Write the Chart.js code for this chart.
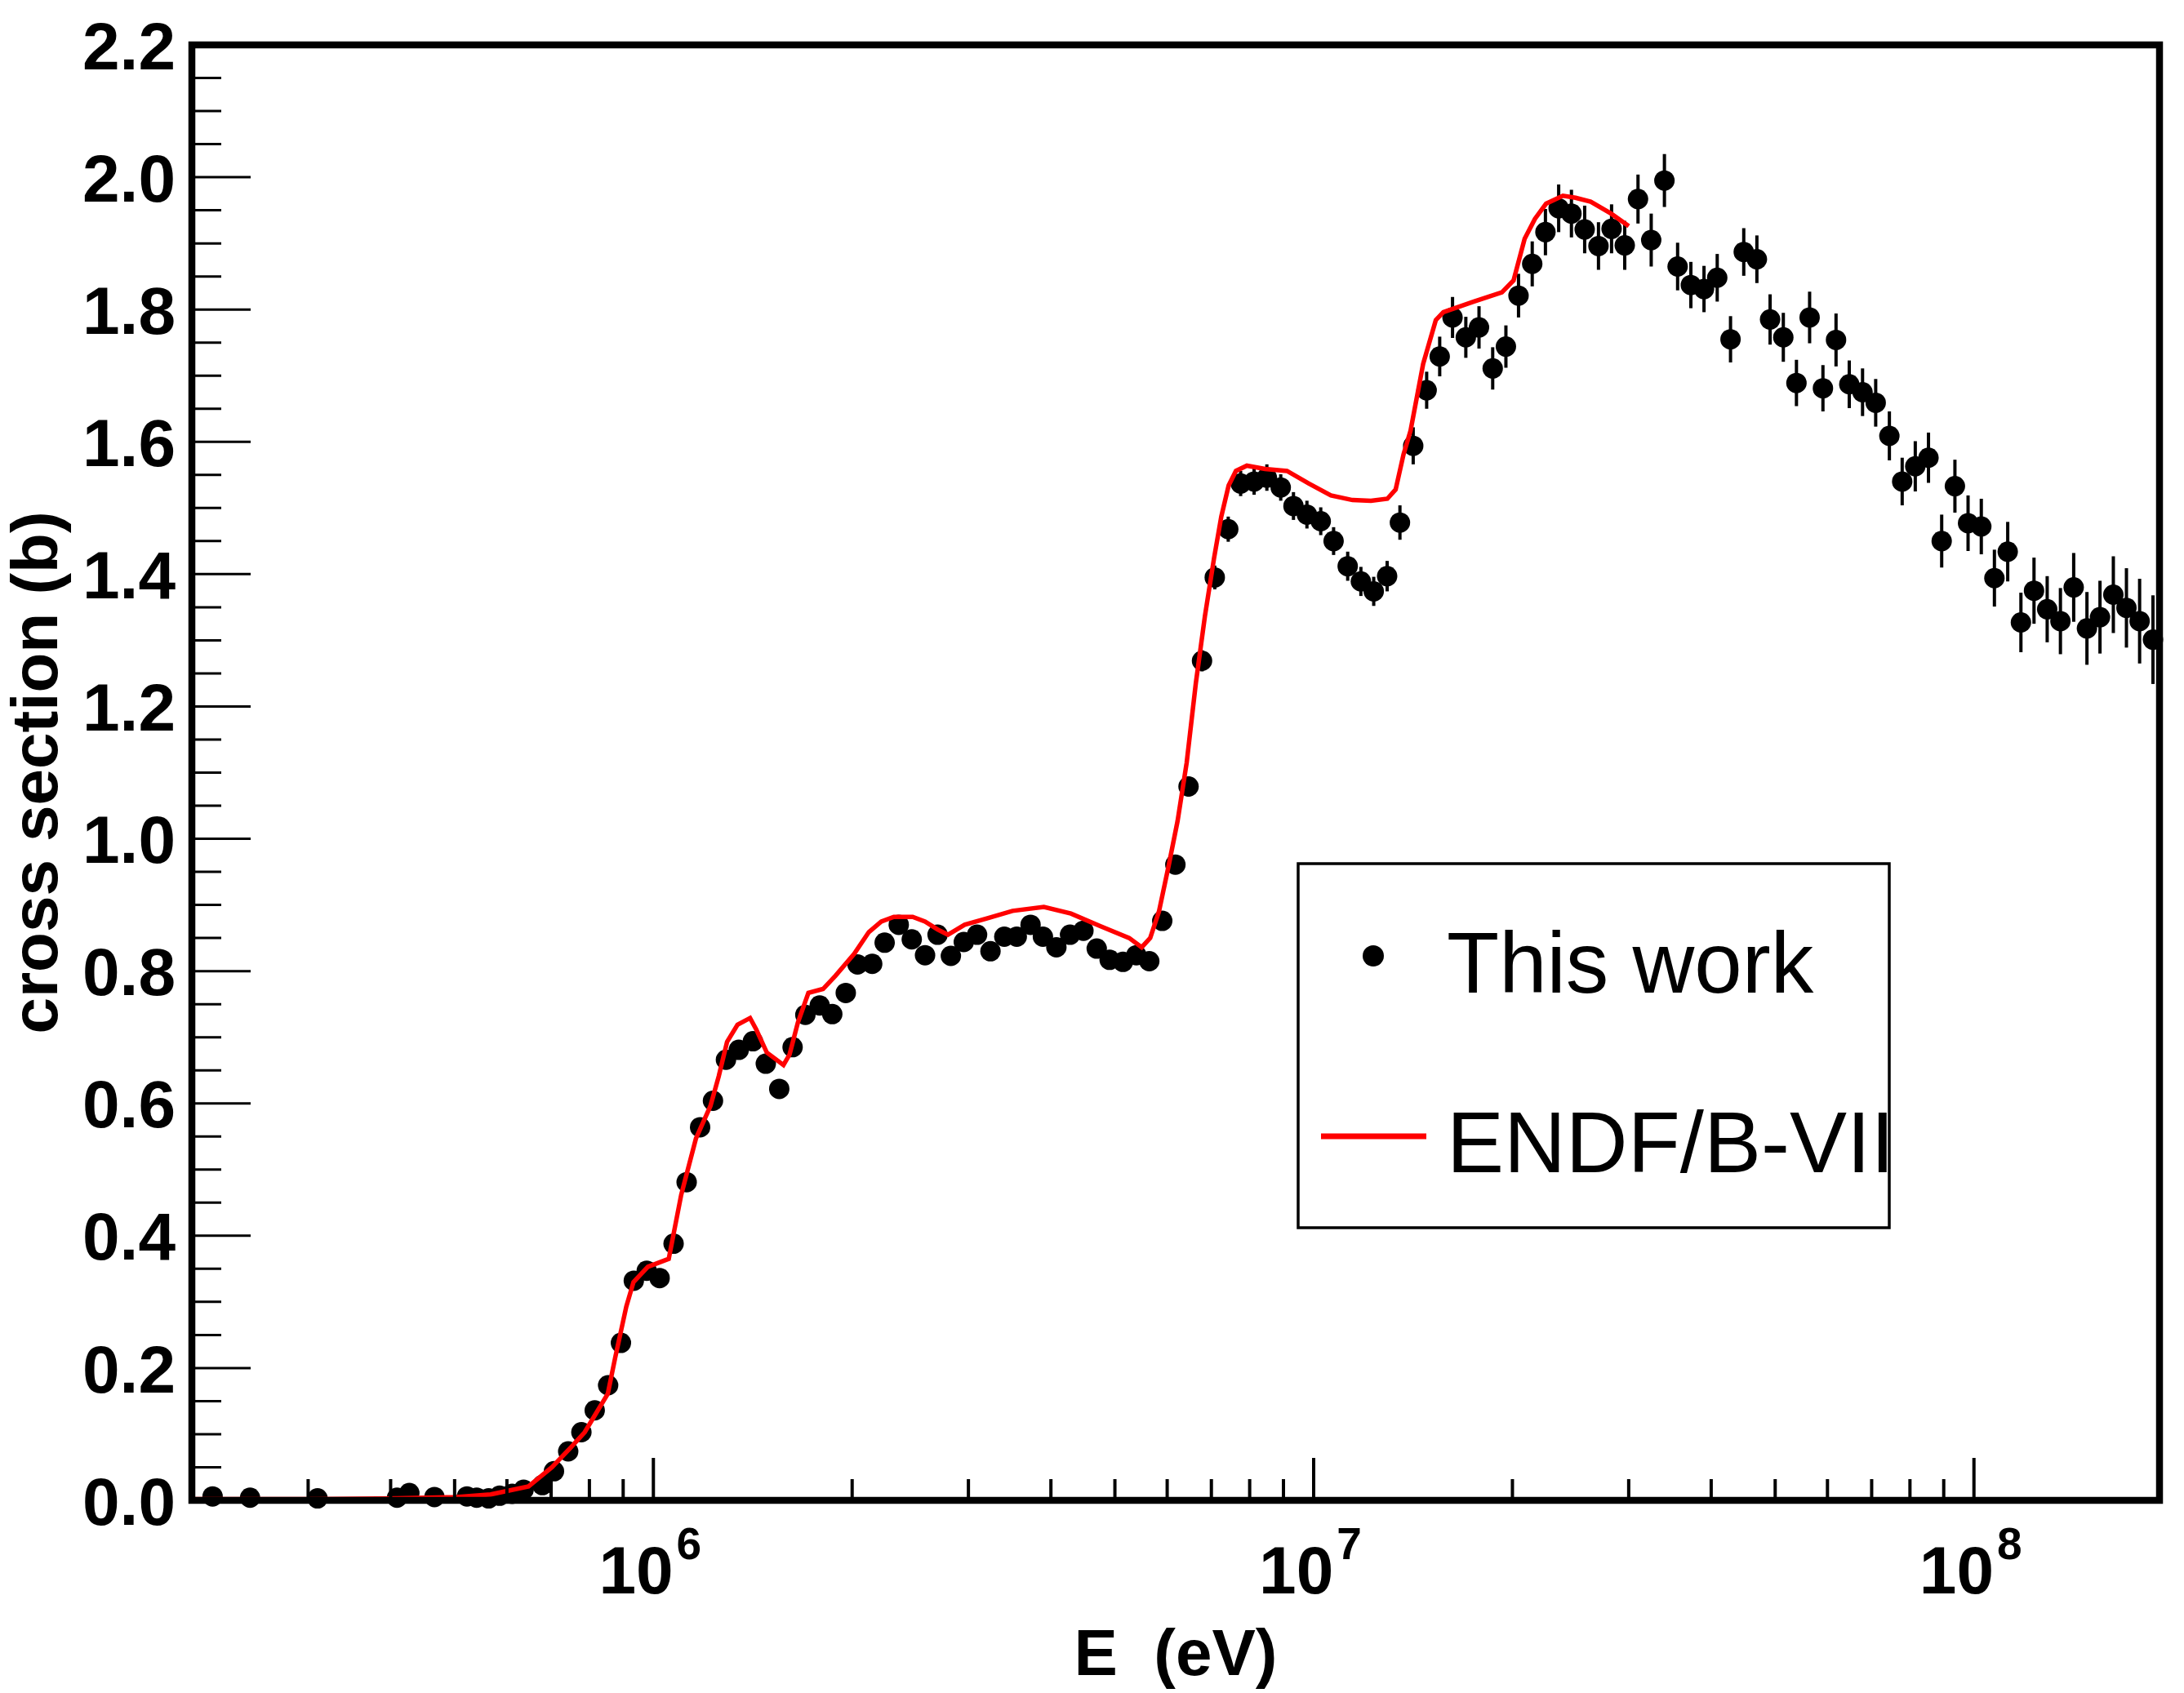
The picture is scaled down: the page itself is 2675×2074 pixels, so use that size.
<!DOCTYPE html>
<html>
<head>
<meta charset="utf-8">
<script src="https://cdn.jsdelivr.net/npm/chart.js@4.4.1/dist/chart.umd.min.js"></script>
<style>
  html, body { margin: 0; padding: 0; background: #fff; }
  #wrap { width: 2675px; height: 2074px; }
</style>
</head>
<body>
<div id="wrap"><canvas id="xsChart" width="2675" height="2074"></canvas></div>
<script>
// measured points (eV, barn)
const energies = [2.15e5, 2.45e5, 3.10e5, 4.09e5, 4.27e5, 4.66e5, 5.22e5, 5.40e5, 5.63e5, 5.85e5,
  6.11e5, 6.36e5, 6.79e5, 7.07e5, 7.43e5, 7.78e5, 8.15e5, 8.54e5, 8.93e5, 9.34e5,
  9.77e5, 1.022e6, 1.073e6, 1.123e6, 1.177e6, 1.231e6, 1.288e6, 1.347e6, 1.415e6, 1.480e6,
  1.551e6, 1.625e6, 1.699e6, 1.786e6, 1.866e6, 1.956e6, 2.038e6, 2.145e6, 2.240e6, 2.353e6,
  2.462e6, 2.579e6, 2.694e6, 2.822e6, 2.952e6, 3.092e6, 3.240e6, 3.400e6, 3.551e6, 3.726e6,
  3.890e6, 4.077e6, 4.276e6, 4.480e6, 4.693e6, 4.909e6, 5.143e6, 5.388e6, 5.637e6, 5.898e6,
  6.174e6, 6.464e6, 6.775e6, 7.083e6, 7.424e6, 7.752e6, 8.125e6, 8.494e6, 8.915e6, 9.320e6,
  9.768e6, 1.025e7, 1.072e7, 1.126e7, 1.179e7, 1.233e7, 1.292e7, 1.351e7, 1.415e7, 1.483e7,
  1.552e7, 1.623e7, 1.700e7, 1.780e7, 1.867e7, 1.955e7, 2.043e7, 2.143e7, 2.244e7, 2.350e7,
  2.457e7, 2.573e7, 2.700e7, 2.826e7, 2.959e7, 3.099e7, 3.245e7, 3.398e7, 3.558e7, 3.726e7,
  3.901e7, 4.085e7, 4.279e7, 4.481e7, 4.691e7, 4.912e7, 5.144e7, 5.385e7, 5.638e7, 5.906e7,
  6.182e7, 6.474e7, 6.781e7, 7.099e7, 7.446e7, 7.786e7, 8.150e7, 8.534e7, 8.936e7, 9.358e7,
  9.797e7, 1.026e8, 1.074e8, 1.125e8, 1.178e8, 1.233e8, 1.291e8, 1.352e8, 1.416e8, 1.483e8,
  1.552e8, 1.626e8, 1.702e8, 1.782e8, 1.867e8];

const crossSection = [0.006, 0.004, 0.003, 0.004, 0.011, 0.005, 0.006, 0.004, 0.003, 0.007,
  0.010, 0.016, 0.023, 0.044, 0.074, 0.103, 0.136, 0.174, 0.238, 0.332,
  0.347, 0.336, 0.388, 0.481, 0.564, 0.604, 0.666, 0.681, 0.694, 0.660,
  0.622, 0.685, 0.734, 0.748, 0.735, 0.767, 0.810, 0.811, 0.843, 0.870,
  0.848, 0.824, 0.855, 0.823, 0.844, 0.855, 0.830, 0.852, 0.852, 0.870,
  0.852, 0.836, 0.855, 0.861, 0.834, 0.817, 0.814, 0.824, 0.815, 0.876,
  0.961, 1.079, 1.269, 1.395, 1.468, 1.537, 1.540, 1.546, 1.531, 1.503,
  1.490, 1.480, 1.450, 1.412, 1.389, 1.374, 1.397, 1.478, 1.594, 1.678,
  1.729, 1.788, 1.758, 1.773, 1.711, 1.744, 1.821, 1.869, 1.917, 1.953,
  1.945, 1.921, 1.896, 1.922, 1.897, 1.967, 1.905, 1.995, 1.865, 1.837,
  1.831, 1.848, 1.755, 1.887, 1.876, 1.785, 1.758, 1.689, 1.788, 1.681,
  1.754, 1.687, 1.675, 1.659, 1.609, 1.540, 1.563, 1.576, 1.450, 1.533,
  1.477, 1.472, 1.394, 1.434, 1.327, 1.375, 1.347, 1.329, 1.380, 1.318,
  1.335, 1.369, 1.349, 1.329, 1.301];

const errors = [0.004, 0.004, 0.004, 0.004, 0.004, 0.004, 0.004, 0.004, 0.004, 0.004,
  0.004, 0.004, 0.004, 0.004, 0.004, 0.004, 0.004, 0.004, 0.004, 0.004,
  0.004, 0.004, 0.010, 0.010, 0.010, 0.010, 0.010, 0.010, 0.010, 0.010,
  0.010, 0.010, 0.010, 0.010, 0.010, 0.010, 0.010, 0.010, 0.010, 0.010,
  0.010, 0.010, 0.010, 0.010, 0.010, 0.010, 0.010, 0.010, 0.010, 0.010,
  0.010, 0.010, 0.010, 0.010, 0.010, 0.010, 0.010, 0.010, 0.010, 0.012,
  0.013, 0.015, 0.016, 0.018, 0.019, 0.019, 0.020, 0.020, 0.020, 0.021,
  0.021, 0.021, 0.021, 0.022, 0.022, 0.022, 0.023, 0.026, 0.028, 0.028,
  0.030, 0.031, 0.031, 0.032, 0.032, 0.032, 0.033, 0.034, 0.035, 0.036,
  0.036, 0.036, 0.036, 0.037, 0.037, 0.037, 0.040, 0.040, 0.036, 0.035,
  0.035, 0.036, 0.035, 0.036, 0.036, 0.038, 0.037, 0.035, 0.039, 0.035,
  0.040, 0.036, 0.036, 0.036, 0.037, 0.036, 0.038, 0.038, 0.040, 0.040,
  0.042, 0.042, 0.043, 0.045, 0.045, 0.050, 0.050, 0.050, 0.052, 0.055,
  0.055, 0.058, 0.060, 0.064, 0.067];

// evaluated curve
const endfEnergies = [2.0e5, 3.1e5, 4.09e5, 5.03e5, 5.67e5, 6.47e5, 7.02e5, 7.50e5, 7.87e5, 8.53e5,
  8.75e5, 9.10e5, 9.33e5, 9.81e5, 1.055e6, 1.102e6, 1.160e6, 1.220e6, 1.256e6, 1.293e6,
  1.341e6, 1.401e6, 1.431e6, 1.485e6, 1.574e6, 1.608e6, 1.655e6, 1.717e6, 1.807e6, 1.887e6,
  2.014e6, 2.120e6, 2.214e6, 2.313e6, 2.470e6, 2.579e6, 2.694e6, 2.793e6, 2.961e6, 3.207e6,
  3.499e6, 3.903e6, 4.289e6, 4.750e6, 5.256e6, 5.490e6, 5.655e6, 5.830e6, 6.027e6, 6.222e6,
  6.422e6, 6.630e6, 6.843e6, 7.065e6, 7.246e6, 7.434e6, 7.625e6, 7.922e6, 8.440e6, 9.112e6,
  9.834e6, 1.062e7, 1.145e7, 1.221e7, 1.293e7, 1.331e7, 1.368e7, 1.402e7, 1.465e7, 1.531e7,
  1.572e7, 1.749e7, 1.928e7, 2.008e7, 2.087e7, 2.163e7, 2.249e7, 2.385e7, 2.492e7, 2.628e7,
  2.821e7, 3.001e7];

const endfValues = [0.002, 0.002, 0.003, 0.005, 0.009, 0.021, 0.050, 0.080, 0.103, 0.161,
  0.215, 0.293, 0.330, 0.353, 0.365, 0.462, 0.547, 0.596, 0.641, 0.693,
  0.719, 0.729, 0.712, 0.677, 0.658, 0.674, 0.722, 0.767, 0.773, 0.793,
  0.826, 0.859, 0.875, 0.882, 0.882, 0.875, 0.863, 0.855, 0.870, 0.880,
  0.891, 0.897, 0.887, 0.868, 0.850, 0.836, 0.850, 0.890, 0.958, 1.027,
  1.115, 1.235, 1.336, 1.424, 1.487, 1.534, 1.556, 1.564, 1.559, 1.556,
  1.537, 1.519, 1.512, 1.511, 1.514, 1.528, 1.581, 1.617, 1.718, 1.784,
  1.796, 1.812, 1.826, 1.844, 1.907, 1.937, 1.960, 1.972, 1.969, 1.963,
  1.945, 1.926];

const xMajorTicks = [1e6, 1e7, 1e8];
const xTickExponents = ['6', '7', '8'];

const FONT = "'Liberation Sans', Arial, Helvetica, sans-serif";

const rootStyle = {
  id: 'rootStyle',
  beforeDatasetsDraw(chart) {
    // vertical error bars
    const ctx = chart.ctx, xs = chart.scales.x, ys = chart.scales.y;
    ctx.save();
    ctx.strokeStyle = '#000';
    ctx.lineWidth = 4;
    energies.forEach((e, i) => {
      const x = xs.getPixelForValue(e);
      ctx.beginPath();
      ctx.moveTo(x, ys.getPixelForValue(crossSection[i] - errors[i]));
      ctx.lineTo(x, ys.getPixelForValue(crossSection[i] + errors[i]));
      ctx.stroke();
    });
    ctx.restore();
  },
  afterDraw(chart) {
    const ctx = chart.ctx, a = chart.chartArea, xs = chart.scales.x, ys = chart.scales.y;
    ctx.save();
    ctx.strokeStyle = '#000';
    ctx.fillStyle = '#000';

    // y ticks, inward
    ctx.lineWidth = 3;
    for (let i = 0; i <= 44; i++) {
      const y = ys.getPixelForValue(i * 0.05);
      const len = i % 4 === 0 ? 72 : 36;
      ctx.beginPath();
      ctx.moveTo(a.left, y);
      ctx.lineTo(a.left + len, y);
      ctx.stroke();
    }

    // x ticks, inward
    ctx.lineWidth = 4;
    for (let d = 5; d <= 8; d++) {
      for (let k = 1; k <= 9; k++) {
        const v = k * Math.pow(10, d);
        if (v <= xs.min * 1.01 || v >= xs.max) continue;
        const x = xs.getPixelForValue(v);
        const len = k === 1 ? 52 : 26;
        ctx.beginPath();
        ctx.moveTo(x, a.bottom);
        ctx.lineTo(x, a.bottom - len);
        ctx.stroke();
      }
    }

    // frame
    ctx.lineWidth = 8.5;
    ctx.strokeRect(a.left, a.top, a.right - a.left, a.bottom - a.top);

    // x tick labels 10^n
    ctx.textBaseline = 'alphabetic';
    ctx.textAlign = 'left';
    xMajorTicks.forEach((v, i) => {
      const x = xs.getPixelForValue(v);
      ctx.font = 'bold 82px ' + FONT;
      const wBase = ctx.measureText('10').width;
      ctx.font = 'bold 55px ' + FONT;
      const wExp = ctx.measureText(xTickExponents[i]).width;
      const x0 = x - (wBase + 4 + wExp) / 2 - 4;
      ctx.font = 'bold 82px ' + FONT;
      ctx.fillText('10', x0, 1952);
      ctx.font = 'bold 55px ' + FONT;
      ctx.fillText(xTickExponents[i], x0 + wBase + 4, 1910);
    });

    // x title
    ctx.font = 'bold 80px ' + FONT;
    ctx.textAlign = 'center';
    ctx.fillText('E  (eV)', (a.left + a.right) / 2, 2052);

    // legend
    const ds = chart.data.datasets;
    ctx.lineWidth = 3.5;
    ctx.strokeRect(1590, 1058, 724, 446);
    ctx.beginPath();
    ctx.arc(1682, 1171, 13, 0, Math.PI * 2);
    ctx.fill();
    ctx.strokeStyle = '#ff0000';
    ctx.lineWidth = 7;
    ctx.beginPath();
    ctx.moveTo(1618, 1392);
    ctx.lineTo(1747, 1392);
    ctx.stroke();
    ctx.font = '105px ' + FONT;
    ctx.textAlign = 'left';
    ctx.fillText(ds[1].label, 1772, 1216);
    ctx.fillText(ds[0].label, 1772, 1436);
    ctx.restore();
  }
};

new Chart(document.getElementById('xsChart').getContext('2d'), {
  type: 'scatter',
  data: {
    datasets: [
      {
        type: 'line',
        label: 'ENDF/B-VII',
        data: endfEnergies.map((e, i) => ({ x: e, y: endfValues[i] })),
        borderColor: '#ff0000',
        borderWidth: 5.5,
        pointRadius: 0,
        fill: false,
        tension: 0,
        order: 0
      },
      {
        label: 'This work',
        data: energies.map((e, i) => ({ x: e, y: crossSection[i] })),
        backgroundColor: '#000',
        borderWidth: 0,
        pointRadius: 12.5,
        clip: false,
        order: 1
      }
    ]
  },
  options: {
    responsive: false,
    animation: false,
    devicePixelRatio: 1,
    layout: { padding: { top: 55, right: 30, bottom: 236, left: 0 } },
    plugins: { legend: { display: false }, tooltip: { enabled: false } },
    scales: {
      x: { type: 'logarithmic', min: 2e5, max: 1.91e8, display: false },
      y: {
        min: 0,
        max: 2.2,
        afterFit: s => { s.width = 235; s.paddingTop = 0; s.paddingBottom = 0; },
        grid: { display: false, drawTicks: false },
        border: { display: false },
        ticks: {
          stepSize: 0.2,
          padding: 20,
          labelOffset: 7,
          color: '#000',
          font: { family: FONT, weight: 'bold', size: 82 },
          callback: v => v.toFixed(1)
        },
        title: {
          display: true,
          text: 'cross section (b)',
          color: '#000',
          padding: { top: 0, bottom: 0 },
          font: { family: FONT, weight: 'bold', size: 80 }
        }
      }
    }
  },
  plugins: [rootStyle]
});
</script>
</body>
</html>
